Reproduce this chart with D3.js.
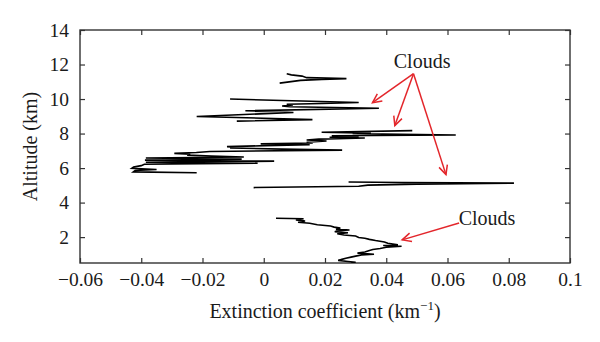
<!DOCTYPE html>
<html>
<head>
<meta charset="utf-8">
<script src="https://cdnjs.cloudflare.com/ajax/libs/d3/7.8.5/d3.min.js"></script>
<style>
  html, body { margin: 0; padding: 0; background: #fff; }
  svg { display: block; font-family: "Liberation Serif", "DejaVu Serif", serif; }
</style>
</head>
<body>
<div id="chart"></div>
<script>
// Extinction profile, altitude (km) from top to bottom; NaN marks missing retrievals
const altitudeKm = [
  11.46, 11.40, 11.33, 11.24, 11.18, 11.14, 11.08, 10.92,
  NaN,
  10.00, 9.80, 9.74, 9.70, 9.66, 9.60, 9.55, 9.47, 9.32, 9.22, 8.99, 8.81, 8.72,
  NaN,
  8.17, 8.08, 8.05, 8.02, 8.00, 7.97, 7.92, 7.87, 7.83, 7.79, 7.74, 7.68, 7.63,
  7.57, 7.50, 7.45, 7.40, 7.35, 7.30, 7.24, 7.20, 7.16, 7.10, 7.04, 6.96, 6.90,
  6.85, 6.80, 6.75, 6.70, 6.64, 6.58, 6.52, 6.46, 6.40, 6.34, 6.28, 6.22, 6.14,
  6.06, 5.98, 5.92, 5.86, 5.78, 5.73,
  NaN,
  5.19, 5.16, 5.13, 5.07, 5.01, 4.95, 4.87,
  NaN,
  3.09, 3.06, 3.00, 2.93, 2.86, 2.80, 2.72, 2.64, 2.58, 2.52, 2.46, 2.41, 2.37,
  2.31, 2.25, 2.19, 2.12, 2.06, 1.98, 1.93, 1.87, 1.80, 1.72, 1.64, 1.56, 1.51,
  1.47, 1.41, 1.34, 1.28, 1.22, 1.14, 1.07, 1.01, 0.96, 0.90, 0.84, 0.77, 0.71,
  0.65, 0.59, 0.54, 0.49
];

const extinction = [
  0.0075, 0.0090, 0.0125, 0.0140, 0.0270, 0.0190, 0.0120, 0.0052,
  NaN,
  -0.0110, 0.0310, 0.0190, 0.0075, 0.0095, 0.0060, 0.0085, 0.0376, -0.0060, 0.0097, -0.0219, 0.0159, -0.0088,
  NaN,
  0.0485, 0.0189, 0.0270, 0.0350, 0.0290, 0.0390, 0.0627, 0.0222, 0.0310, 0.0215, 0.0330, 0.0180, 0.0140,
  0.0205, 0.0140, 0.0160, -0.0010, 0.0150, 0.0005, -0.0120, -0.0090, -0.0110, 0.0060, 0.0256, -0.0176, -0.0220,
  -0.0292, -0.0240, -0.0250, -0.0170, -0.0065, -0.0385, -0.0072, -0.0388, 0.0034, -0.0385, -0.0020, -0.0390, -0.0400,
  -0.0425, -0.0431, -0.0350, -0.0420, -0.0426, -0.0219,
  NaN,
  0.0277, 0.0450, 0.0817, 0.0500, 0.0340, 0.0310, -0.0033,
  NaN,
  0.0040, 0.0130, 0.0105, 0.0135, 0.0112, 0.0150, 0.0175, 0.0218, 0.0230, 0.0250, 0.0236, 0.0280, 0.0240,
  0.0232, 0.0275, 0.0240, 0.0262, 0.0300, 0.0310, 0.0330, 0.0345, 0.0365, 0.0394, 0.0405, 0.0438, 0.0390,
  0.0450, 0.0400, 0.0380, 0.0356, 0.0345, 0.0330, 0.0306, 0.0360, 0.0319, 0.0300, 0.0285, 0.0268, 0.0255,
  0.0243, 0.0275, 0.0300, 0.0285
];

const xTicks = [-0.06, -0.04, -0.02, 0, 0.02, 0.04, 0.06, 0.08, 0.1];
const yTicks = [2, 4, 6, 8, 10, 12, 14];

// "Clouds" annotations: label anchor (extinction, altitude) and arrow tips
const cloudLabels = [
  { text: 'Clouds', x: 0.0517, y: 11.8, from: [0.0489, 11.47], to: [[0.0355, 9.79], [0.0428, 8.46], [0.0595, 5.62]] },
  { text: 'Clouds', x: 0.0729, y: 2.72, from: [0.0638, 2.82], to: [[0.0452, 1.84]] }
];

const W = 600, H = 342;
const margin = { top: 30, right: 30, bottom: 79, left: 80 };
const innerW = W - margin.left - margin.right;
const innerH = H - margin.top - margin.bottom;

const profile = altitudeKm.map((a, i) => ({ alt: a, ext: extinction[i] }));

const x = d3.scaleLinear().domain([-0.06, 0.1]).range([0, innerW]);
const y = d3.scaleLinear().domain([0.5, 14]).range([innerH, 0]);

const svg = d3.select('#chart').append('svg')
  .attr('width', W)
  .attr('height', H)
  .attr('viewBox', `0 0 ${W} ${H}`);

const g = svg.append('g').attr('transform', `translate(${margin.left},${margin.top})`);

g.append('clipPath').attr('id', 'plot-clip')
  .append('rect').attr('width', innerW).attr('height', innerH);

const fmt = (d) => (d < 0 ? '\u2212' : '') + String(Math.abs(d));
const axisColor = '#333';

function styleAxis(ax) {
  ax.select('.domain').remove();
  ax.selectAll('line').attr('stroke', axisColor).attr('stroke-width', 1.2);
  ax.selectAll('text')
    .attr('fill', '#1a1a1a')
    .style('font-size', '19.5px')
    .style('font-family', '"Liberation Serif", serif');
}

// ticks point inward on every side
g.append('g')
  .attr('transform', `translate(0,${innerH})`)
  .call(d3.axisBottom(x).tickValues(xTicks).tickSize(-5).tickPadding(9).tickFormat(fmt))
  .call(styleAxis);

g.append('g')
  .call(d3.axisTop(x).tickValues(xTicks).tickSize(-5).tickFormat(''))
  .call(styleAxis);

g.append('g')
  .call(d3.axisLeft(y).tickValues(yTicks).tickSize(-5).tickPadding(11).tickFormat(d3.format('d')))
  .call(styleAxis);

g.append('g')
  .attr('transform', `translate(${innerW},0)`)
  .call(d3.axisRight(y).tickValues(yTicks).tickSize(-5).tickFormat(''))
  .call(styleAxis);

g.append('rect')
  .attr('width', innerW)
  .attr('height', innerH)
  .attr('fill', 'none')
  .attr('stroke', axisColor)
  .attr('stroke-width', 1.4);

const line = d3.line()
  .defined((d) => !isNaN(d.alt) && !isNaN(d.ext))
  .x((d) => x(d.ext))
  .y((d) => y(d.alt));

g.append('path')
  .datum(profile)
  .attr('clip-path', 'url(#plot-clip)')
  .attr('d', line)
  .attr('fill', 'none')
  .attr('stroke', '#000')
  .attr('stroke-width', 1.6)
  .attr('stroke-linejoin', 'miter');

// annotations
const red = '#e3262b';
const headLen = 10, headAngle = Math.PI / 7;

for (const c of cloudLabels) {
  const [fx, fy] = [x(c.from[0]), y(c.from[1])];
  for (const t of c.to) {
    const [tx, ty] = [x(t[0]), y(t[1])];
    g.append('line')
      .attr('x1', fx).attr('y1', fy)
      .attr('x2', tx).attr('y2', ty)
      .attr('stroke', red)
      .attr('stroke-width', 1.5);
    const ang = Math.atan2(fy - ty, fx - tx);
    const p1 = [tx + headLen * Math.cos(ang + headAngle), ty + headLen * Math.sin(ang + headAngle)];
    const p2 = [tx + headLen * Math.cos(ang - headAngle), ty + headLen * Math.sin(ang - headAngle)];
    g.append('path')
      .attr('d', `M${p1[0]},${p1[1]}L${tx},${ty}L${p2[0]},${p2[1]}`)
      .attr('fill', 'none')
      .attr('stroke', red)
      .attr('stroke-width', 1.5);
  }
  g.append('text')
    .attr('x', x(c.x))
    .attr('y', y(c.y))
    .attr('text-anchor', 'middle')
    .attr('fill', '#1a1a1a')
    .style('font-size', '20px')
    .text(c.text);
}

// axis titles
svg.append('text')
  .attr('transform', `translate(37,${margin.top + innerH / 2}) rotate(-90)`)
  .attr('text-anchor', 'middle')
  .attr('fill', '#1a1a1a')
  .style('font-size', '20px')
  .text('Altitude (km)');

const xTitle = svg.append('text')
  .attr('x', margin.left + innerW / 2)
  .attr('y', 318)
  .attr('text-anchor', 'middle')
  .attr('fill', '#1a1a1a')
  .style('font-size', '20px');
xTitle.append('tspan').text('Extinction coefficient (km');
xTitle.append('tspan').attr('dy', -8).style('font-size', '13px').text('\u22121');
xTitle.append('tspan').attr('dy', 8).text(')');
</script>
</body>
</html>
